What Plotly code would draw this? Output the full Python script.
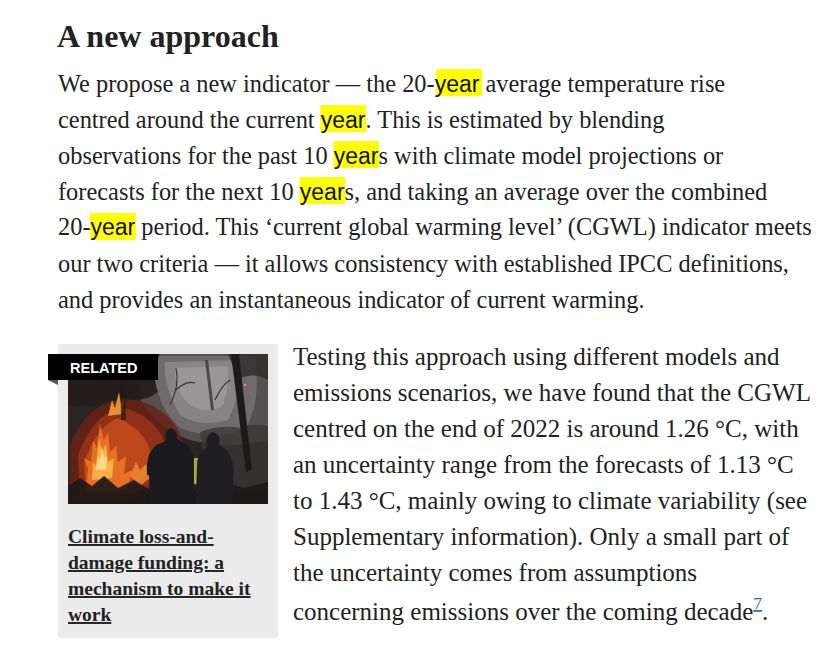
import plotly.graph_objects as go

W, H = 825, 654

# ---- text content ----
heading = "A new approach"

# top paragraph: (text before highlight, highlighted word, text after)
top_lines = [
    ("We propose a new indicator — the 20-", "year", " average temperature rise"),
    ("centred around the current ", "year", ". This is estimated by blending"),
    ("observations for the past 10 ", "year", "s with climate model projections or"),
    ("forecasts for the next 10 ", "year", "s, and taking an average over the combined"),
    ("20-", "year", " period. This ‘current global warming level’ (CGWL) indicator meets"),
    ("our two criteria — it allows consistency with established IPCC definitions,", "", ""),
    ("and provides an instantaneous indicator of current warming.", "", ""),
]

right_lines = [
    "Testing this approach using different models and",
    "emissions scenarios, we have found that the CGWL",
    "centred on the end of 2022 is around 1.26 °C, with",
    "an uncertainty range from the forecasts of 1.13 °C",
    "to 1.43 °C, mainly owing to climate variability (see",
    "Supplementary information). Only a small part of",
    "the uncertainty comes from assumptions",
    "concerning emissions over the coming decade",
]
footnote = "7"

related_label = "RELATED"
card_title = ["Climate loss-and-", "damage funding: a", "mechanism to make it", "work"]

# ---- styles ----
BODY_FONT = "Liberation Serif"
HL_FONT = "Liberation Sans"
TOP_SIZE = 24.4
RIGHT_SIZE = 25
HL_SIZE = 23
TXT = "#222222"
HL = "#ffff00"

# advance widths (units per 1000 em) of Liberation Serif / Liberation Sans,
# used to place the highlight box under the highlighted word
SERIF_W = {" ": 250, "W": 944, "e": 444, "p": 500, "r": 333, "o": 500, "s": 389, "a": 444,
           "n": 500, "w": 722, "i": 278, "d": 500, "c": 444, "t": 278, "—": 1000, "h": 500,
           "2": 500, "0": 500, "-": 333, "u": 500, "b": 500, "v": 500, "f": 333, "x": 500,
           "1": 500}
SANS_W = {"y": 500, "e": 556, "a": 556, "r": 333}

def width(s, table, size):
    return sum(table.get(ch, 500) for ch in s) * size / 1000.0

fig = go.Figure()
shapes = []
ann = []

def text(x, y, s, size=TOP_SIZE, family=BODY_FONT, color=TXT, xanchor="left"):
    ann.append(dict(x=x, y=y, xref="x", yref="y", text=s, showarrow=False,
                    xanchor=xanchor, yanchor="middle", borderpad=0, borderwidth=0,
                    font=dict(family=family, size=size, color=color)))

# heading
text(57, 36, "<b>" + heading + "</b>", size=32)

# top paragraph
LEFT = 58
top_base = 91
for i, (pre, hl, post) in enumerate(top_lines):
    yb = top_base + 36 * i
    if hl:
        x0 = LEFT + width(pre, SERIF_W, TOP_SIZE)
        x1 = x0 + width(hl, SANS_W, HL_SIZE)
        shapes.append(dict(type="rect", xref="x", yref="y", x0=x0 - 0.5, x1=x1 + 0.5,
                           y0=yb - 22, y1=yb + 5, fillcolor=HL, line_width=0, layer="below"))
        s = (pre + "<span style='font-family:" + HL_FONT + ";font-size:" + str(HL_SIZE)
             + "px;fill:#111111'>" + hl + "</span>" + post)
    else:
        s = pre
    text(LEFT, yb - 8, s)

# right paragraph
right_base = 364.5
for i, line in enumerate(right_lines):
    yb = right_base + 36 * i
    s = line
    if i == len(right_lines) - 1:
        s = line + "<sup><span style='fill:#1a6fb5;text-decoration:underline'>" + footnote + "</span></sup>."
    text(293, yb - 8, s, size=RIGHT_SIZE)

# related card background
shapes.append(dict(type="rect", xref="x", yref="y", x0=58, x1=278, y0=344, y1=638,
                   fillcolor="#ebebeb", line_width=0, layer="below"))

# photo (approximate illustration of a wildfire scene)
IX0, IX1, IY0, IY1 = 68, 268, 354, 504
def rect(x0, y0, x1, y1, c, op=1.0):
    shapes.append(dict(type="rect", xref="x", yref="y", x0=x0, x1=x1, y0=y0, y1=y1,
                       fillcolor=c, opacity=op, line_width=0, layer="above"))
def path(d, c, op=1.0):
    shapes.append(dict(type="path", xref="x", yref="y", path=d, fillcolor=c, opacity=op,
                       line_width=0, layer="above"))

rect(IX0, IY0, IX1, IY1, "#2a2524")
# smoky sky, soft layers
path("M 140 354 L 268 354 L 268 440 Q 230 450 190 440 Q 160 430 140 400 Z", "#5f5b5c", 0.8)
path("M 155 356 L 255 356 Q 262 400 245 430 Q 210 440 180 428 Q 160 410 155 380 Z", "#767274", 0.8)
path("M 165 362 L 238 360 Q 242 395 228 420 Q 200 428 180 415 Q 168 395 165 375 Z", "#8f8c8e", 0.75)
path("M 175 368 L 228 366 Q 230 392 220 408 Q 200 414 186 402 Q 176 388 175 375 Z", "#a5a2a4", 0.6)
# dark tree canopy on left and top
path("M 68 354 L 160 354 Q 150 372 158 392 Q 140 405 120 398 Q 95 410 68 405 Z", "#221d1c", 0.9)
path("M 228 354 L 268 354 L 268 380 Q 255 372 240 378 Q 232 366 228 354 Z", "#2e2a2a", 0.8)
# branches
shapes.append(dict(type="path", xref="x", yref="y", layer="above",
                   path="M 170 405 Q 180 385 176 368 M 176 390 Q 186 380 195 383 M 215 400 Q 222 385 230 380",
                   line=dict(color="#3a3637", width=1.2)))
# right, hazy dark shrubs
path("M 200 432 Q 220 424 240 428 Q 255 422 268 426 L 268 490 L 210 490 Z", "#3a3536", 0.75)
# fire glow
path("M 70 445 Q 90 395 135 400 Q 180 410 185 455 Q 175 495 120 500 L 70 500 Z", "#6a2214", 0.85)
path("M 78 455 Q 95 410 125 408 Q 165 420 168 460 Q 160 490 120 496 L 80 496 Z", "#a3341a", 0.75)
path("M 84 462 Q 98 425 118 418 Q 150 432 152 462 Q 145 488 115 492 L 86 492 Z", "#cc501d", 0.75)
# flames (jagged)
path("M 86 490 L 88 468 L 84 458 L 91 462 L 93 440 L 97 448 L 100 424 L 104 440 L 108 432 "
     "L 110 452 L 116 446 L 118 462 L 126 456 L 124 474 L 132 470 L 128 490 Z", "#ea7626", 0.9)
path("M 92 480 L 93 462 L 96 466 L 99 438 L 102 452 L 106 444 L 108 462 L 114 458 L 112 478 Z",
     "#ffb04a", 0.95)
path("M 96 470 L 98 456 L 100 460 L 102 446 L 104 458 L 107 456 L 106 470 Z", "#ffe08a", 0.9)
path("M 108 416 L 112 400 L 115 408 L 119 392 L 121 404 L 124 398 L 122 414 Z", "#f59a36", 0.9)
path("M 130 476 L 136 462 L 140 470 L 146 464 L 150 478 L 140 486 Z", "#f08e34", 0.8)
path("M 152 470 L 158 460 L 163 472 L 158 482 Z", "#e06a28", 0.7)
# dark ground / bushes
path("M 68 486 L 80 478 L 92 486 L 104 476 L 118 488 L 134 480 L 150 490 L 170 482 L 192 490 "
     "L 220 482 L 244 488 L 268 482 L 268 504 L 68 504 Z", "#1c1817", 0.9)
# tree trunks
path("M 231 354 L 239 354 L 252 470 L 246 472 Z", "#1c1a1a")
path("M 205 360 L 208 360 L 214 410 L 211 410 Z", "#3a3637", 0.8)
path("M 120 354 L 124 354 L 126 420 L 121 420 Z", "#1d1b1b", 0.7)
# embers
rect(244, 384, 246, 386, "#ff8a3a")
rect(222, 402, 224, 404, "#ff8a3a", 0.8)
# people silhouettes
path("M 150 504 L 149 470 Q 147 450 158 444 L 166 441 Q 163 433 170 428 Q 178 429 177 439 L 184 443 Q 196 450 194 470 L 192 504 Z", "#1b1a1c")
path("M 147 475 Q 146 462 150 452 L 153 454 Q 151 466 151 476 Z", "#1b1a1c")
path("M 193 452 Q 193 444 198 443 Q 203 445 202 452 L 203 490 L 194 490 Z", "#26251f")
rect(194, 458, 200, 484, "#b5bf3a", 0.9)
path("M 196 504 L 197 462 Q 199 451 207 447 Q 204 436 212 432 Q 221 433 219 445 Q 232 451 234 470 L 232 504 Z", "#1f1e22")

# related label
rect(48, 354, 158, 380, "#000000")
path("M 48 380 L 58 380 L 58 385 Z", "#555555")
text(103, 367.5, "<b>" + related_label + "</b>", size=14.5, family="Liberation Sans", color="#ffffff",
     xanchor="center")

# card title (underlined link)
for i, line in enumerate(card_title):
    yb = 543 + 26 * i
    text(68, yb - 6.5, "<b><span style='text-decoration:underline'>" + line + "</span></b>", size=19.5)

fig.update_layout(
    width=W, height=H, margin=dict(l=0, r=0, t=0, b=0),
    paper_bgcolor="white", plot_bgcolor="white",
    xaxis=dict(range=[0, W], visible=False, fixedrange=True),
    yaxis=dict(range=[H, 0], visible=False, fixedrange=True),
    shapes=shapes, annotations=ann, showlegend=False,
)
fig.write_html("out.html", config={"displayModeBar": False},
               post_script="document.body.style.margin='0px';document.body.style.overflow='hidden';")
